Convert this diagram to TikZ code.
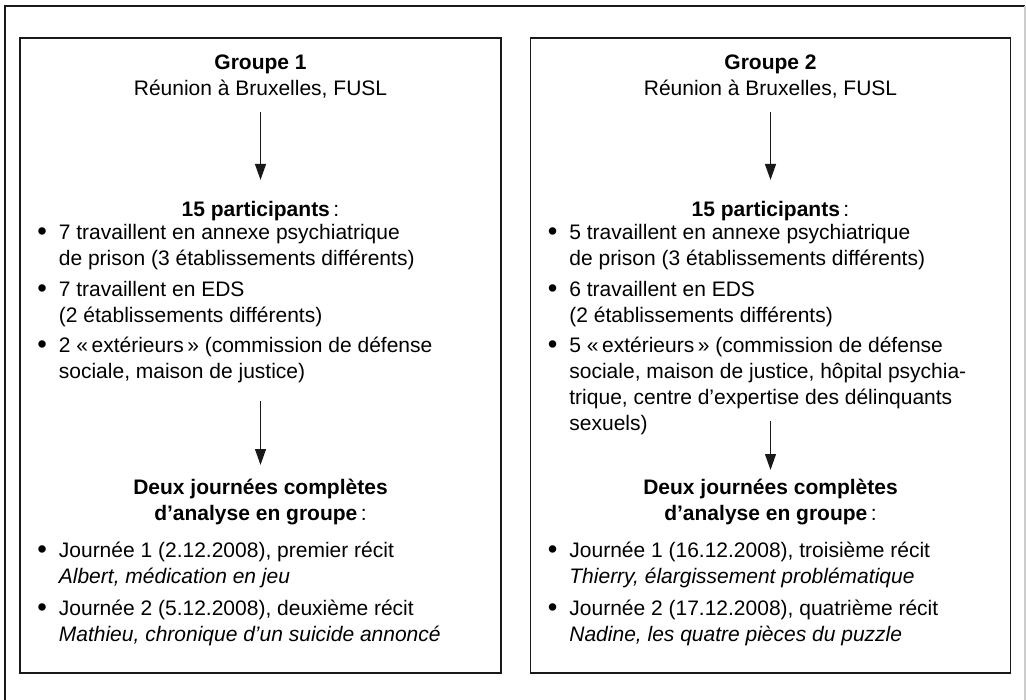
\documentclass[tikz,border=0pt]{standalone}
\usepackage{fontspec}
\setmainfont{Liberation Sans}
\usetikzlibrary{arrows.meta}
\newcommand{\puce}{\llap{\raisebox{-0.4pt}{\scalebox{1.3}{\textbullet}}\hspace{6pt}}}

\begin{document}
\begin{tikzpicture}[x=0.5pt,y=-0.5pt,
    font=\fontsize{10.5}{13}\selectfont,
    cadre/.style={line width=0.75pt,draw=black!90},
    titre/.style={align=center,inner sep=0pt,anchor=north,
      execute at begin node=\strut,execute at end node=\strut},
    liste/.style={align=left,inner sep=0pt,anchor=north west,
      execute at begin node=\strut,execute at end node=\strut},
    fleche/.style={line width=0.9pt,draw=black!90,
      -{Triangle[length=8pt,width=5.4pt]}}]
  % Frame
  \useasboundingbox (0,0) rectangle (1026,700);
  \draw[cadre] (5,700) -- (5,6) -- (1025,6);
  \draw[line width=0.65pt,black!20] (1025,6) -- (1025,700);

  % Groupe 1
  \draw[cadre] (20,38) rectangle (501,673);
  \node[titre] (grp1) at (260.5,54.8) {\textbf{Groupe 1}\\Réunion à Bruxelles, FUSL};
  \node[titre] (part1) at (260.5,197.8) {\textbf{15 participants}\,:};
  \node[liste] (ann1) at (58.5,223.8) {\puce 7 travaillent en annexe psychiatrique\\de prison (3 établissements différents)};
  \node[liste] (eds1) at (58.5,280.8) {\puce 7 travaillent en EDS\\(2 établissements différents)};
  \node[liste] (ext1) at (58.5,336.8) {\puce 2 «\,extérieurs\,» (commission de défense\\sociale, maison de justice)};
  \node[titre] (deux1) at (260.5,478.8) {\textbf{Deux journées complètes}\\\textbf{d’analyse en groupe}\,:};
  \node[liste] (jra1) at (58.5,541.8) {\puce Journée 1 (2.12.2008), premier récit\\\textit{Albert, médication en jeu}};
  \node[liste] (jrb1) at (58.5,599.8) {\puce Journée 2 (5.12.2008), deuxième récit\\\textit{Mathieu, chronique d’un suicide annoncé}};
  \draw[fleche,shorten <=4.1pt,shorten >=8.9pt] (grp1) -- (part1);
  \draw[fleche,shorten <=7.1pt,shorten >=6.9pt] (ext1.south -| deux1.north) -- (deux1.north);

  % Groupe 2
  \draw[cadre] (530.5,38) rectangle (1010.5,673);
  \node[titre] (grp2) at (770.5,54.8) {\textbf{Groupe 2}\\Réunion à Bruxelles, FUSL};
  \node[titre] (part2) at (770.5,197.8) {\textbf{15 participants}\,:};
  \node[liste] (ann2) at (569,223.8) {\puce 5 travaillent en annexe psychiatrique\\de prison (3 établissements différents)};
  \node[liste] (eds2) at (569,280.8) {\puce 6 travaillent en EDS\\(2 établissements différents)};
  \node[liste] (ext2) at (569,336.8) {\puce 5 «\,extérieurs\,» (commission de défense\\sociale, maison de justice, hôpital psychia-\\trique, centre d’expertise des délinquants\\sexuels)};
  \node[titre] (deux2) at (770.5,478.8) {\textbf{Deux journées complètes}\\\textbf{d’analyse en groupe}\,:};
  \node[liste] (jra2) at (569,541.8) {\puce Journée 1 (16.12.2008), troisième récit\\\textit{Thierry, élargissement problématique}};
  \node[liste] (jrb2) at (569,599.8) {\puce Journée 2 (17.12.2008), quatrième récit\\\textit{Nadine, les quatre pièces du puzzle}};
  \draw[fleche,shorten <=4.1pt,shorten >=8.9pt] (grp2) -- (part2);
  \draw[fleche,shorten <=-8.9pt,shorten >=4.4pt] (ext2.south -| deux2.north) -- (deux2.north);
\end{tikzpicture}
\end{document}
